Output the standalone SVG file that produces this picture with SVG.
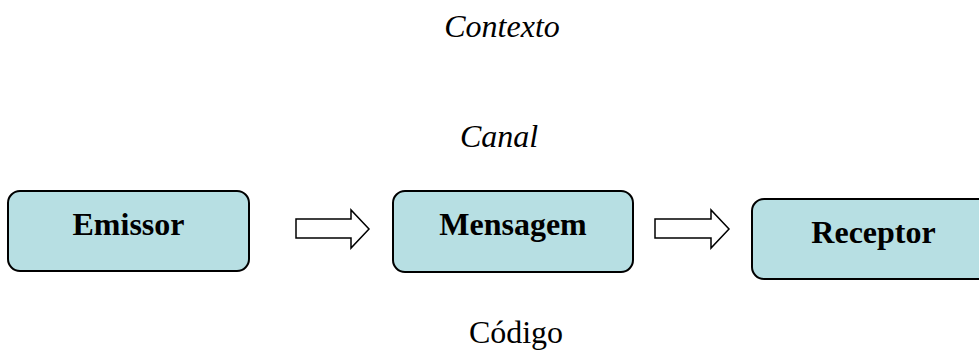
<svg xmlns="http://www.w3.org/2000/svg" width="979" height="353" viewBox="0 0 979 353">
  <style>
    .box { fill: #B7DFE3; stroke: #000; stroke-width: 2; }
    .lbl { font-family: "Liberation Serif", "Times New Roman", serif; font-size: 32px; font-weight: bold; text-anchor: middle; fill: #000; }
    .note { font-family: "Liberation Serif", "Times New Roman", serif; font-size: 32px; text-anchor: middle; fill: #000; }
    .it { font-style: italic; }
    .arrow { fill: #fff; stroke: #000; stroke-width: 1.5; stroke-linejoin: miter; }
  </style>
  <rect width="979" height="353" fill="#fff"/>

  <!-- free labels -->
  <text class="note it" x="502" y="37">Contexto</text>
  <text class="note it" x="499" y="147">Canal</text>
  <text class="note" x="516" y="343">Código</text>

  <g id="emissor">
    <rect class="box" x="8" y="191" width="241" height="80" rx="12"/>
    <text class="lbl" x="128.5" y="235">Emissor</text>
  </g>

  <g id="mensagem">
    <rect class="box" x="393" y="191" width="240" height="81" rx="12"/>
    <text class="lbl" x="513" y="235">Mensagem</text>
  </g>

  <g id="receptor">
    <rect class="box" x="752" y="199" width="243" height="80" rx="12"/>
    <text class="lbl" x="873.5" y="243">Receptor</text>
  </g>

  <g id="connectors">
    <path class="arrow" d="M296,219 H351 V210 L369,229 L351,248 V238 H296 Z"/>
    <path class="arrow" d="M655,219 H711 V210 L729,229 L711,248 V238 H655 Z"/>
  </g>
</svg>
